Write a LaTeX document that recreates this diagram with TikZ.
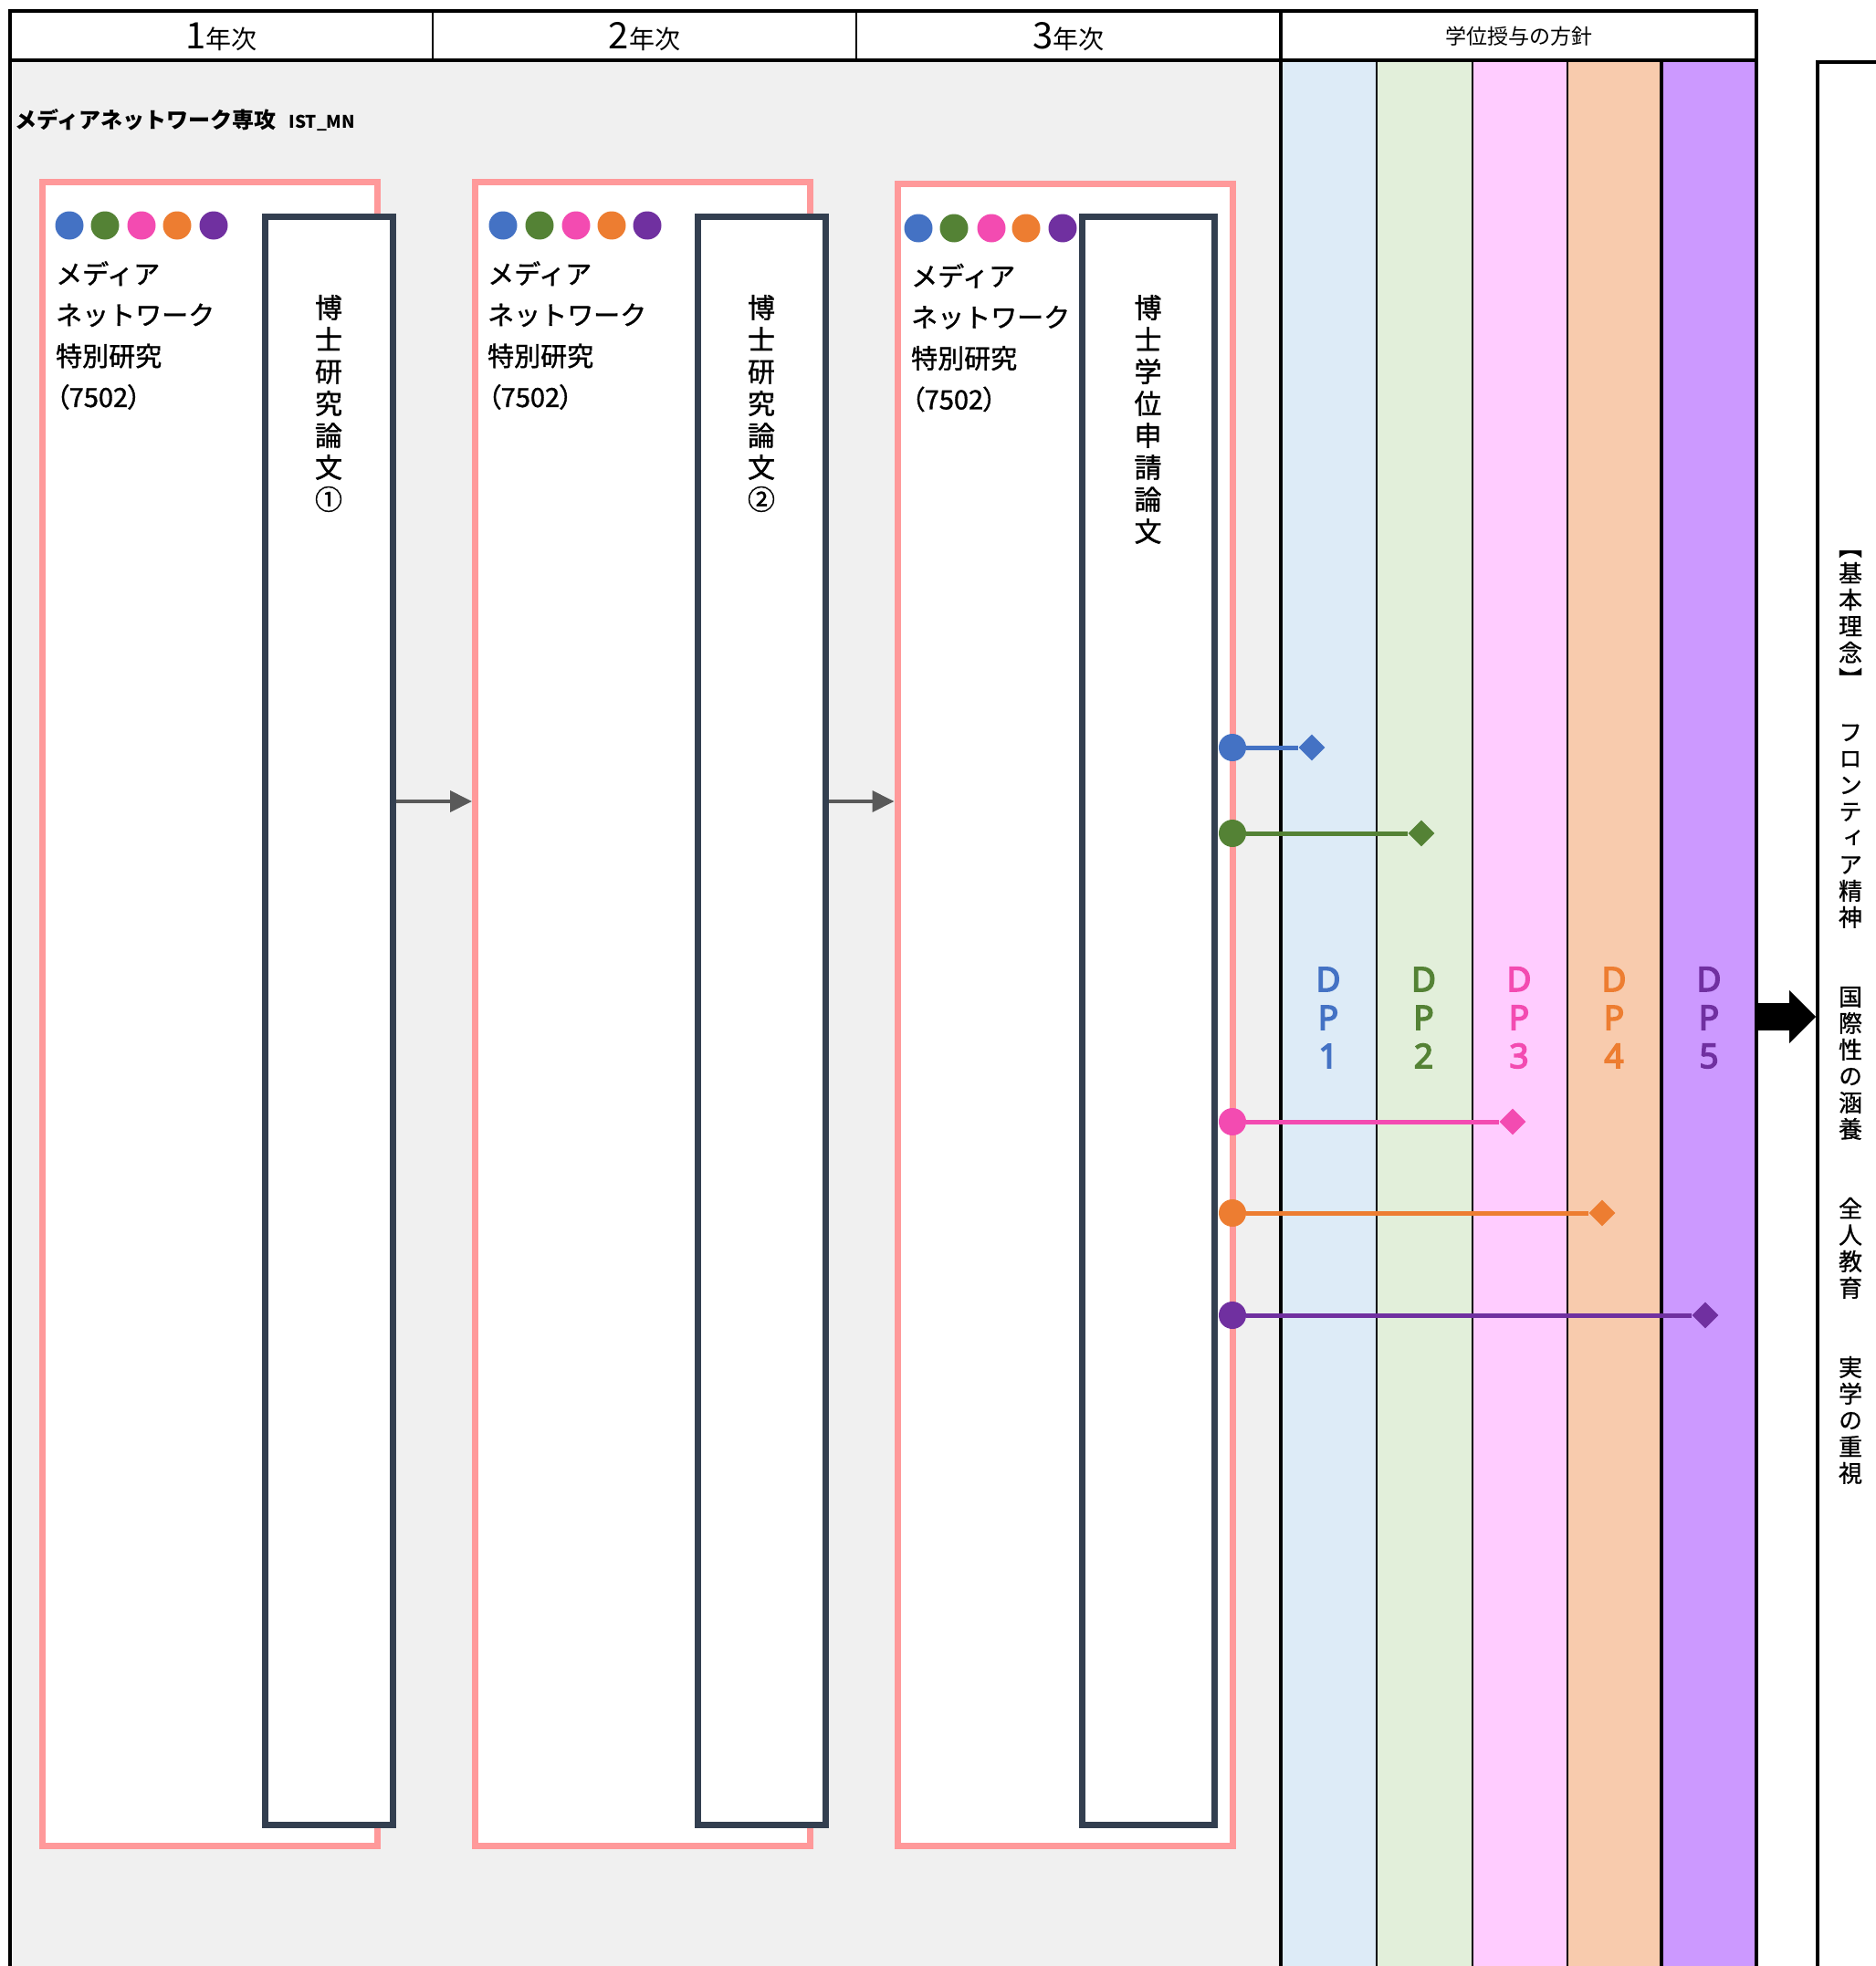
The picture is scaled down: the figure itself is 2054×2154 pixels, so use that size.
\documentclass[tikz,border=0pt]{standalone}
\usepackage{fontspec}
\newfontfamily\jp{Noto Sans CJK JP}
\newfontfamily\jpm[RawFeature={embolden=1.2}]{Noto Sans CJK JP}
\newfontfamily\jpv[RawFeature=+vert,RawFeature={embolden=1.2}]{Noto Sans CJK JP}
\newfontfamily\jpvr[RawFeature=+vert,RawFeature={embolden=0.8}]{Noto Sans CJK JP}
\newfontfamily\jpp[RawFeature=+palt,RawFeature={embolden=1.2}]{Noto Sans CJK JP}
\newfontfamily\dpf[RawFeature={embolden=4}]{Noto Sans}
\usetikzlibrary{arrows.meta,shapes.geometric}
\newcommand\myfs[2]{\fontsize{#1}{#2}\selectfont}
\definecolor{bgg}{HTML}{F0F0F0}
\definecolor{dpA}{HTML}{DDEBF7}
\definecolor{dpB}{HTML}{E2EFDA}
\definecolor{dpC}{HTML}{FFCCFF}
\definecolor{dpD}{HTML}{F8CBAD}
\definecolor{dpE}{HTML}{CC99FF}
\definecolor{cA}{HTML}{4472C4}
\definecolor{cB}{HTML}{548235}
\definecolor{cC}{HTML}{F34BB1}
\definecolor{cD}{HTML}{ED7D31}
\definecolor{cE}{HTML}{7030A0}
\definecolor{pinkline}{HTML}{FF999A}
\definecolor{darkline}{HTML}{333F50}
\definecolor{arrowgray}{HTML}{595959}
\newcommand\yr[1]{{\myfs{40}{40}#1}{\myfs{28}{28}年次}}
\begin{document}
\begin{tikzpicture}[x=1pt,y=-1pt,
  pinkbox/.style={draw=pinkline, line width=7pt, fill=white, inner sep=0pt},
  darkbox/.style={draw=darkline, line width=7pt, fill=white, inner sep=0pt},
  hcell/.style={draw=black, line width=1.5pt, fill=white, inner sep=0pt, minimum height=54pt, font=\jp},
  dpcol/.style={draw=black, line width=2pt, fill=#1, inner sep=0pt, minimum height=2120pt, anchor=north west},
  colorball/.style={circle, fill=#1, minimum size=31pt, inner sep=0pt},
  startball/.style={circle, fill=#1, minimum size=30pt, inner sep=0pt},
  endgem/.style={diamond, fill=#1, minimum width=29pt, minimum height=29pt, inner sep=0pt},
  dplink/.style={draw=#1, line width=5pt},
  coursetxt/.style={anchor=west, align=left, inner sep=0pt, font=\jpm\myfs{29}{45}},
  thesistxt/.style={align=center, inner sep=0pt, font=\jpv\myfs{30}{35}},
  dplabel/.style={align=center, inner sep=0pt, text=#1, font=\dpf\myfs{37}{42}},
  yeararrow/.style={draw=arrowgray, line width=4pt, -{Triangle[length=24pt,width=23pt]}},
  frame/.style={draw=black, line width=#1},
]
\useasboundingbox (0,0) rectangle (2054,2154);
\fill[white] (0,0) rectangle (2054,2154);
\fill[bgg] (11,66) rectangle (1403,2170);

% DP columns
\node[dpcol=dpA, minimum width=104pt] (colA) at (1403,66) {};
\node[dpcol=dpB, minimum width=105pt] (colB) at (1507,66) {};
\node[dpcol=dpC, minimum width=104pt] (colC) at (1612,66) {};
\node[dpcol=dpD, minimum width=104pt] (colD) at (1716,66) {};
\node[dpcol=dpE, minimum width=104pt] (colE) at (1820,66) {};

% header
\node[hcell, minimum width=463pt] (h1) at (242.5,40) {\yr{1}};
\node[hcell, minimum width=464pt] (h2) at (706,40) {\yr{2}};
\node[hcell, minimum width=465pt] (h3) at (1170.5,40) {\yr{3}};
\node[hcell, minimum width=521pt, font=\jp\myfs{23}{23}] (h4) at (1663.5,40) {学位授与の方針};

% frame lines
\draw[frame=4pt] (11,2170) -- (11,12) -- (1924,12) -- (1924,2170);
\draw[frame=3pt] (11,66) -- (1924,66);
\draw[frame=3.5pt] (1403,12) -- (1403,2170);
\draw[frame=3.5pt] (1820,66) -- (1820,2170);

% title
\node[anchor=base west, inner sep=0pt, font=\jp\bfseries\myfs{24}{24}] (title) at (16,141)
  {メディアネットワーク専攻\hspace{14pt}{\myfs{19}{19}IST\_MN}};

% year boxes
\node[pinkbox, minimum width=366.5pt, minimum height=1822.5pt] (p1) at (229.75,1110.75) {};
\node[pinkbox, minimum width=366.5pt, minimum height=1822.5pt] (p2) at (703.75,1110.75) {};
\node[pinkbox, minimum width=367pt, minimum height=1820pt] (p3) at (1166.5,1112) {};
\node[darkbox, minimum width=140pt, minimum height=1762pt] (d1) at (360,1118) {};
\node[darkbox, minimum width=140pt, minimum height=1762pt] (d2) at (834,1118) {};
\node[darkbox, minimum width=145pt, minimum height=1762pt] (d3) at (1257.5,1118) {};

% colour dots
\node[colorball=cA] (b1a) at (76,247) {};
\node[colorball=cB] (b1b) at (115,247) {};
\node[colorball=cC] (b1c) at (155,247) {};
\node[colorball=cD] (b1d) at (194,247) {};
\node[colorball=cE] (b1e) at (234,247) {};
\node[colorball=cA] (b2a) at (551,247) {};
\node[colorball=cB] (b2b) at (591,247) {};
\node[colorball=cC] (b2c) at (631,247) {};
\node[colorball=cD] (b2d) at (670,247) {};
\node[colorball=cE] (b2e) at (709,247) {};
\node[colorball=cA] (b3a) at (1006,250) {};
\node[colorball=cB] (b3b) at (1045,250) {};
\node[colorball=cC] (b3c) at (1086,250) {};
\node[colorball=cD] (b3d) at (1124,250) {};
\node[colorball=cE] (b3e) at (1164,250) {};

% course texts
\node[coursetxt] (ct1) at (61,367.5) {メディア\\ネットワーク\\特別研究\\{\jpp （7502）}};
\node[coursetxt] (ct2) at (534,367.5) {メディア\\ネットワーク\\特別研究\\{\jpp （7502）}};
\node[coursetxt] (ct3) at (998,370) {メディア\\ネットワーク\\特別研究\\{\jpp （7502）}};

% thesis texts
\node[thesistxt] (v1) at (360,442) {博\\士\\研\\究\\論\\文\\①};
\node[thesistxt] (v2) at (834,442) {博\\士\\研\\究\\論\\文\\②};
\node[thesistxt] (v3) at (1257.5,459.5) {博\\士\\学\\位\\申\\請\\論\\文};

% year arrows
\coordinate (ay) at (0,878);
\draw[yeararrow] (d1.east |- ay) -- (p2.west |- ay);
\draw[yeararrow] (d2.east |- ay) -- (p3.west |- ay);

% DP labels
\node[dplabel=cA] (lA) at (1455,1115) {D\\P\\1};
\node[dplabel=cB] (lB) at (1559.5,1115) {D\\P\\2};
\node[dplabel=cC] (lC) at (1664,1115) {D\\P\\3};
\node[dplabel=cD] (lD) at (1768,1115) {D\\P\\4};
\node[dplabel=cE] (lE) at (1872,1115) {D\\P\\5};

% DP links
\node[startball=cA] (sA) at (1350,819) {};
\node[endgem=cA] (eA) at (1437,819) {};
\draw[dplink=cA] (sA) -- (eA);
\node[startball=cB] (sB) at (1350,913) {};
\node[endgem=cB] (eB) at (1557,913) {};
\draw[dplink=cB] (sB) -- (eB);
\node[startball=cC] (sC) at (1350,1229) {};
\node[endgem=cC] (eC) at (1657,1229) {};
\draw[dplink=cC] (sC) -- (eC);
\node[startball=cD] (sD) at (1350,1329) {};
\node[endgem=cD] (eD) at (1755,1329) {};
\draw[dplink=cD] (sD) -- (eD);
\node[startball=cE] (sE) at (1350,1441) {};
\node[endgem=cE] (eE) at (1868,1441) {};
\draw[dplink=cE] (sE) -- (eE);

% right box
\node[draw=black, line width=4pt, fill=white, inner sep=0pt, anchor=north west,
      minimum width=200pt, minimum height=2200pt] (rbox) at (1989,66) {};
\node[align=center, inner sep=0pt, font=\jpvr\myfs{26}{29}] (rtxt) at (2027,1114.5)
  {【\\基\\本\\理\\念\\】\\　\\フ\\ロ\\ン\\テ\\ィ\\ア\\精\\神\\　\\　\\国\\際\\性\\の\\涵\\養\\　\\　\\全\\人\\教\\育\\　\\　\\実\\学\\の\\重\\視};

% big arrow
\coordinate (bigtail) at (1924,1114);
\draw[line width=30pt, -{Triangle[length=29pt,width=58pt,line width=0pt]}] (bigtail) -- (rbox.west |- bigtail);
\end{tikzpicture}
\end{document}
